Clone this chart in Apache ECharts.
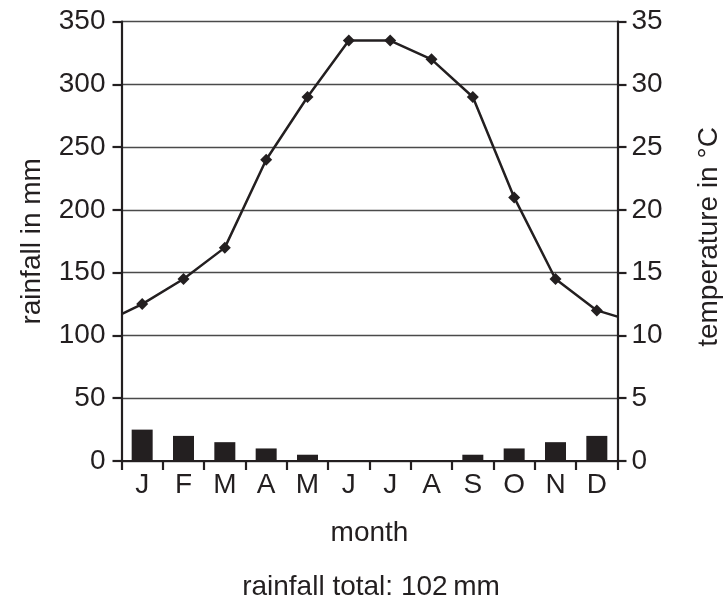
<!DOCTYPE html>
<html>
<head>
<meta charset="utf-8">
<script src="https://cdn.jsdelivr.net/npm/echarts@6/dist/echarts.min.js"></script>
<style>
html,body{margin:0;padding:0;background:#fff;}
#c{width:723px;height:606px;}
</style>
</head>
<body>
<div id="c"></div>
<script>
var months = ['J','F','M','A','M','J','J','A','S','O','N','D'];
var rainfall = [25, 20, 15, 10, 5, 0, 0, 0, 5, 10, 15, 20];
var temperature = [12.5, 14.5, 17, 24, 29, 33.5, 33.5, 32, 29, 21, 14.5, 12];
var tempAtLeftEdge = 11.7;
var tempAtRightEdge = 11.5;
var rainTicks = [0, 50, 100, 150, 200, 250, 300, 350];
var tempTicks = [0, 5, 10, 15, 20, 25, 30, 35];
var footer = 'rainfall total: 102\u2009mm';
var tempName = 'temperature in \u00b0C';

var ink = '#231f20';
var font = 'Liberation Sans, Arial, sans-serif';
var fs = 28;

var lineData = [{value: [0, tempAtLeftEdge], symbol: 'none'}];
temperature.forEach(function (t, i) { lineData.push({value: [i + 0.5, t]}); });
lineData.push({value: [months.length, tempAtRightEdge], symbol: 'none'});

var chart = echarts.init(document.getElementById('c'), null, {renderer: 'canvas'});
chart.setOption({
  animation: false,
  backgroundColor: '#fff',
  textStyle: {fontFamily: font, color: ink},
  grid: {left: 121.5, right: 105.5, top: 21.7, bottom: 145, containLabel: false, outerBoundsMode: 'none'},
  xAxis: [{
    type: 'category',
    data: months,
    boundaryGap: true,
    name: 'month',
    nameLocation: 'middle',
    nameGap: 58,
    nameTextStyle: {fontSize: fs, color: ink, fontFamily: font},
    axisLine: {lineStyle: {color: ink, width: 2.2}},
    axisTick: {show: true, alignWithLabel: false, length: 9, lineStyle: {color: ink, width: 2.2}},
    axisLabel: {fontSize: fs, color: ink, margin: 10, fontFamily: font},
    splitLine: {show: false}
  }, {
    type: 'value',
    min: 0,
    max: months.length,
    show: false
  }],
  yAxis: [{
    type: 'value',
    min: rainTicks[0],
    max: rainTicks[rainTicks.length - 1],
    interval: rainTicks[1] - rainTicks[0],
    name: 'rainfall in mm',
    nameLocation: 'middle',
    nameGap: 75,
    nameRotate: 90,
    nameTextStyle: {fontSize: fs, color: ink, fontFamily: font},
    axisLine: {show: true, lineStyle: {color: ink, width: 2.2}},
    axisTick: {show: true, length: 9, lineStyle: {color: ink, width: 2.2}},
    axisLabel: {fontSize: fs, color: ink, margin: 16, fontFamily: font},
    splitLine: {show: true, lineStyle: {color: '#4a4a4a', width: 1.3}}
  }, {
    type: 'value',
    min: tempTicks[0],
    max: tempTicks[tempTicks.length - 1],
    interval: tempTicks[1] - tempTicks[0],
    position: 'right',
    axisLine: {show: true, lineStyle: {color: ink, width: 2.2}},
    axisTick: {show: true, length: 9, lineStyle: {color: ink, width: 2.2}},
    axisLabel: {fontSize: fs, color: ink, margin: 14, fontFamily: font},
    splitLine: {show: false}
  }],
  graphic: [{
    type: 'text',
    x: 371,
    y: 573,
    style: {text: footer, fontSize: fs, fill: ink, fontFamily: font, textAlign: 'center'}
  }, {
    type: 'text',
    x: 709,
    y: 237,
    rotation: Math.PI / 2,
    style: {text: tempName, fontSize: fs, fill: ink, fontFamily: font, textAlign: 'center', textVerticalAlign: 'middle'}
  }],
  series: [{
    type: 'bar',
    data: rainfall,
    xAxisIndex: 0,
    yAxisIndex: 0,
    barWidth: 21,
    itemStyle: {color: ink},
    z: 3
  }, {
    type: 'line',
    data: lineData,
    xAxisIndex: 1,
    yAxisIndex: 1,
    symbol: 'diamond',
    symbolSize: 12,
    showAllSymbol: true,
    lineStyle: {color: ink, width: 2.5},
    itemStyle: {color: ink},
    z: 4
  }]
});
</script>
</body>
</html>
